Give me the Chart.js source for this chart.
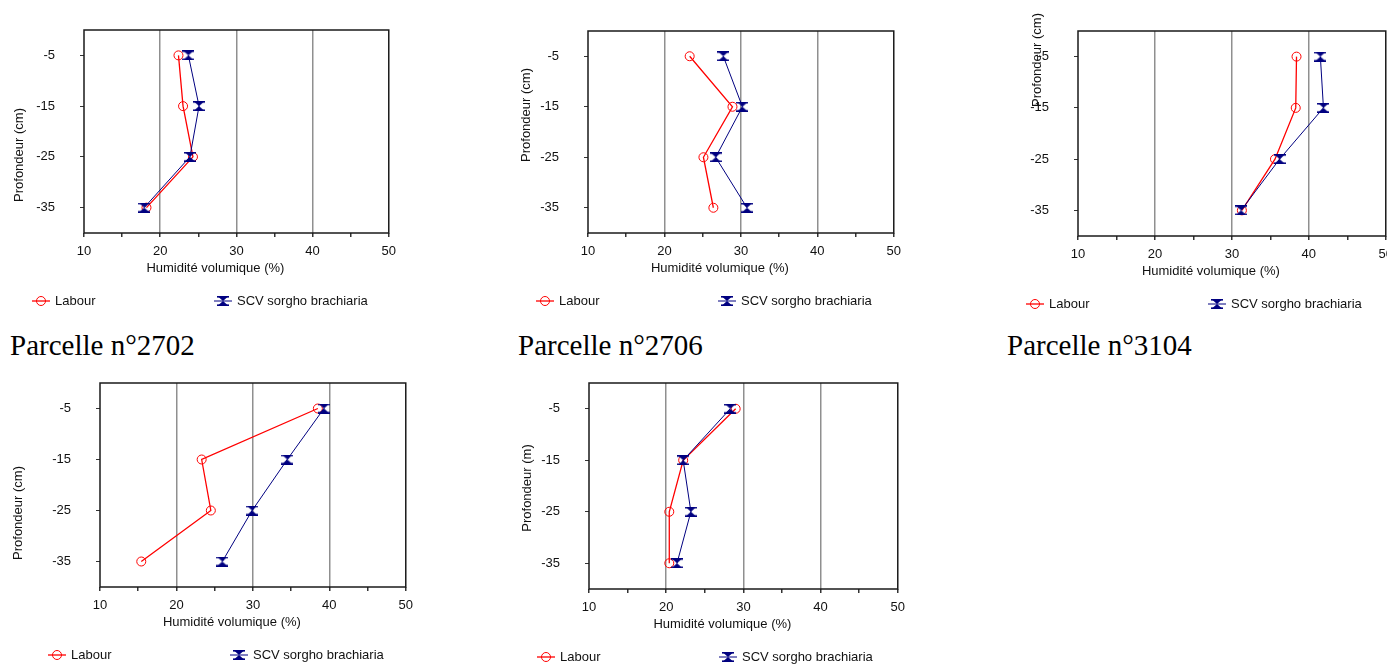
<!DOCTYPE html>
<html>
<head>
<meta charset="utf-8">
<script src="https://cdn.jsdelivr.net/npm/chart.js@4.4.1/dist/chart.umd.min.js"></script>
<style>
    html, body { margin: 0; padding: 0; background: #fff; overflow: hidden; width: 1387px; height: 664px; }
    canvas { position: absolute; }
    .parcelle {
        position: absolute;
        top: 331px;
        font-family: "Liberation Serif", "Times New Roman", serif;
        font-size: 29px;
        line-height: 29px;
        color: #000;
        white-space: nowrap;
    }
</style>
</head>
<body>
<script>
// depth of each measurement (cm), shared by all plots
const depths = [-5, -15, -25, -35];
const depthTicks = [-5, -15, -25, -35];
const humidityTicks = [10, 20, 30, 40, 50];
const seriesNames = ["Labour", "SCV sorgho brachiaria"];
const xTitle = "Humidité volumique (%)";
const yTitles = ["Profondeur (cm)", "Profondeur (cm)", "Profondeur (cm)", "Profondeur (cm)", "Profondeur (m)"];
const parcelles = ["Parcelle n°2702", "Parcelle n°2706", "Parcelle n°3104"];

// humidity values (top row left->right, then bottom row)
const labour1 = [22.4, 23.0, 24.3, 18.2];
const scv1 = [23.7, 25.1, 23.9, 17.9];
const labour2 = [23.3, 28.9, 25.1, 26.4];
const scv2 = [27.7, 30.2, 26.7, 30.8];
const labour3 = [38.4, 38.3, 35.6, 31.3];
const scv3 = [41.5, 41.9, 36.2, 31.2];
const labour4 = [38.5, 23.3, 24.5, 15.4];
const scv4 = [39.3, 34.5, 29.9, 26.0];
const labour5 = [29.0, 22.2, 20.4, 20.4];
const scv5 = [28.3, 22.2, 23.2, 21.4];

const FONT = "'Liberation Sans', Arial, sans-serif";
const RED = "#ff0000";
const NAVY = "#000080";

// plot area of each chart on the page and where its axis titles sit
const panels = [
    { plot: [84, 30, 389, 233], labour: labour1, scv: scv1, yTitle: yTitles[0], ytx: -65, yty: 125 },
    { plot: [588, 31, 894, 233], labour: labour2, scv: scv2, yTitle: yTitles[1], ytx: -62, yty: 84 },
    { plot: [1078, 31, 1386, 236], labour: labour3, scv: scv3, yTitle: yTitles[2], ytx: -41, yty: 29 },
    { plot: [100, 383, 406, 587], labour: labour4, scv: scv4, yTitle: yTitles[3], ytx: -82, yty: 130 },
    { plot: [589, 383, 898, 589], labour: labour5, scv: scv5, yTitle: yTitles[4], ytx: -62, yty: 105 },
];
const headingLeft = [10, 518, 1007];

// canvas margins round the plot area
const PL = 20, L = 84, T = 40, R = 14, B = 80, XH = 40;

function hourglass() {
    const c = document.createElement("canvas");
    c.width = 12;
    c.height = 10;
    const g = c.getContext("2d");
    g.fillStyle = NAVY;
    g.fillRect(0, 0, 12, 1.6);
    g.fillRect(0, 8.4, 12, 1.6);
    g.beginPath();
    g.moveTo(1.5, 1);
    g.lineTo(10.5, 1);
    g.lineTo(6, 5);
    g.closePath();
    g.fill();
    g.beginPath();
    g.moveTo(1.5, 9);
    g.lineTo(10.5, 9);
    g.lineTo(6, 5);
    g.closePath();
    g.fill();
    return c;
}
const scvMarker = hourglass();

const decor = {
    id: "decor",
    beforeDatasetsDraw(chart) {
        const { ctx, chartArea: a } = chart;
        ctx.save();
        ctx.strokeStyle = "#1a1a1a";
        ctx.lineWidth = 1.5;
        ctx.strokeRect(a.left, a.top, a.right - a.left, a.bottom - a.top);
        ctx.restore();
    },
    afterDraw(chart, args, o) {
        const { ctx, chartArea: a } = chart;
        ctx.save();
        ctx.fillStyle = "#111";
        ctx.font = "13px " + FONT;
        ctx.textAlign = "center";
        ctx.textBaseline = "middle";
        ctx.fillText(xTitle, (a.left + a.right) / 2 - 21, a.bottom + 35);
        ctx.save();
        ctx.translate(a.left + o.ytx, a.top + o.yty);
        ctx.rotate(-Math.PI / 2);
        ctx.fillText(o.yTitle, 0, 0);
        ctx.restore();

        // legend: short line with the marker, then the name
        const offsets = [-52, 130];
        const y = a.bottom + 68;
        chart.data.datasets.forEach((ds, i) => {
            const x0 = a.left + offsets[i];
            ctx.strokeStyle = ds.borderColor;
            ctx.lineWidth = ds.borderWidth;
            ctx.beginPath();
            ctx.moveTo(x0, y);
            ctx.lineTo(x0 + 18, y);
            ctx.stroke();
            ctx.lineWidth = 1;
            ctx.fillStyle = "rgba(255,255,255,0)";
            Chart.helpers.drawPoint(ctx, {
                pointStyle: ds.pointStyle,
                radius: ds.pointRadius,
                rotation: 0,
                borderWidth: 1,
            }, x0 + 9, y);
            ctx.fillStyle = "#111";
            ctx.textAlign = "left";
            ctx.fillText(ds.label, x0 + 23, y);
        });
        ctx.restore();
    },
};

parcelles.forEach((p, i) => {
    const d = document.createElement("div");
    d.className = "parcelle";
    d.style.left = headingLeft[i] + "px";
    d.textContent = p;
    document.body.appendChild(d);
});

panels.forEach((p) => {
    const [left, top, right, bottom] = p.plot;
    const cv = document.createElement("canvas");
    cv.width = right - left + PL + L + R;
    cv.height = bottom - top + T + B;
    cv.style.left = left - L - PL + "px";
    cv.style.top = top - T + "px";
    document.body.appendChild(cv);

    new Chart(cv, {
        type: "line",
        data: {
            datasets: [
                {
                    label: seriesNames[0],
                    data: p.labour.map((v, i) => ({ x: v, y: depths[i] })),
                    borderColor: RED,
                    borderWidth: 1.3,
                    pointStyle: "circle",
                    pointRadius: 4.5,
                    pointBorderWidth: 1,
                    pointBackgroundColor: "rgba(255,255,255,0)",
                    pointBorderColor: RED,
                    order: 1,
                },
                {
                    label: seriesNames[1],
                    data: p.scv.map((v, i) => ({ x: v, y: depths[i] })),
                    borderColor: NAVY,
                    borderWidth: 1,
                    pointStyle: scvMarker,
                    pointRadius: 5,
                    order: 0,
                },
            ],
        },
        options: {
            responsive: false,
            animation: false,
            events: [],
            layout: { padding: { left: PL, top: T, right: R, bottom: B - XH } },
            plugins: {
                legend: { display: false },
                tooltip: { enabled: false },
                decor: { yTitle: p.yTitle, ytx: p.ytx, yty: p.yty },
            },
            scales: {
                x: {
                    type: "linear",
                    min: 10,
                    max: 50,
                    afterFit: (s) => { s.height = XH; },
                    afterBuildTicks: (s) => {
                        const t = [];
                        for (let v = humidityTicks[0]; v <= humidityTicks[humidityTicks.length - 1]; v += 5) t.push({ value: v });
                        s.ticks = t;
                    },
                    border: { display: false },
                    grid: {
                        color: (c) => ([20, 30, 40].includes(c.tick.value) ? "#8f8f8f" : "rgba(0,0,0,0)"),
                        lineWidth: 1.5,
                        tickColor: "#333",
                        tickLength: 4,
                    },
                    ticks: {
                        color: "#111",
                        font: { family: FONT, size: 13 },
                        padding: 7,
                        maxRotation: 0,
                        autoSkip: false,
                        callback: (v) => (humidityTicks.includes(v) ? String(v) : ""),
                    },
                },
                y: {
                    type: "linear",
                    min: -40,
                    max: 0,
                    afterFit: (s) => { s.width = L; },
                    afterBuildTicks: (s) => { s.ticks = depthTicks.map((v) => ({ value: v })); },
                    border: { display: false },
                    grid: {
                        drawOnChartArea: false,
                        tickColor: "#333",
                        tickLength: 4,
                        lineWidth: 1,
                    },
                    ticks: {
                        color: "#111",
                        font: { family: FONT, size: 13 },
                        padding: 25,
                        autoSkip: false,
                    },
                },
            },
        },
        plugins: [decor],
    });
});
</script>
</body>
</html>
